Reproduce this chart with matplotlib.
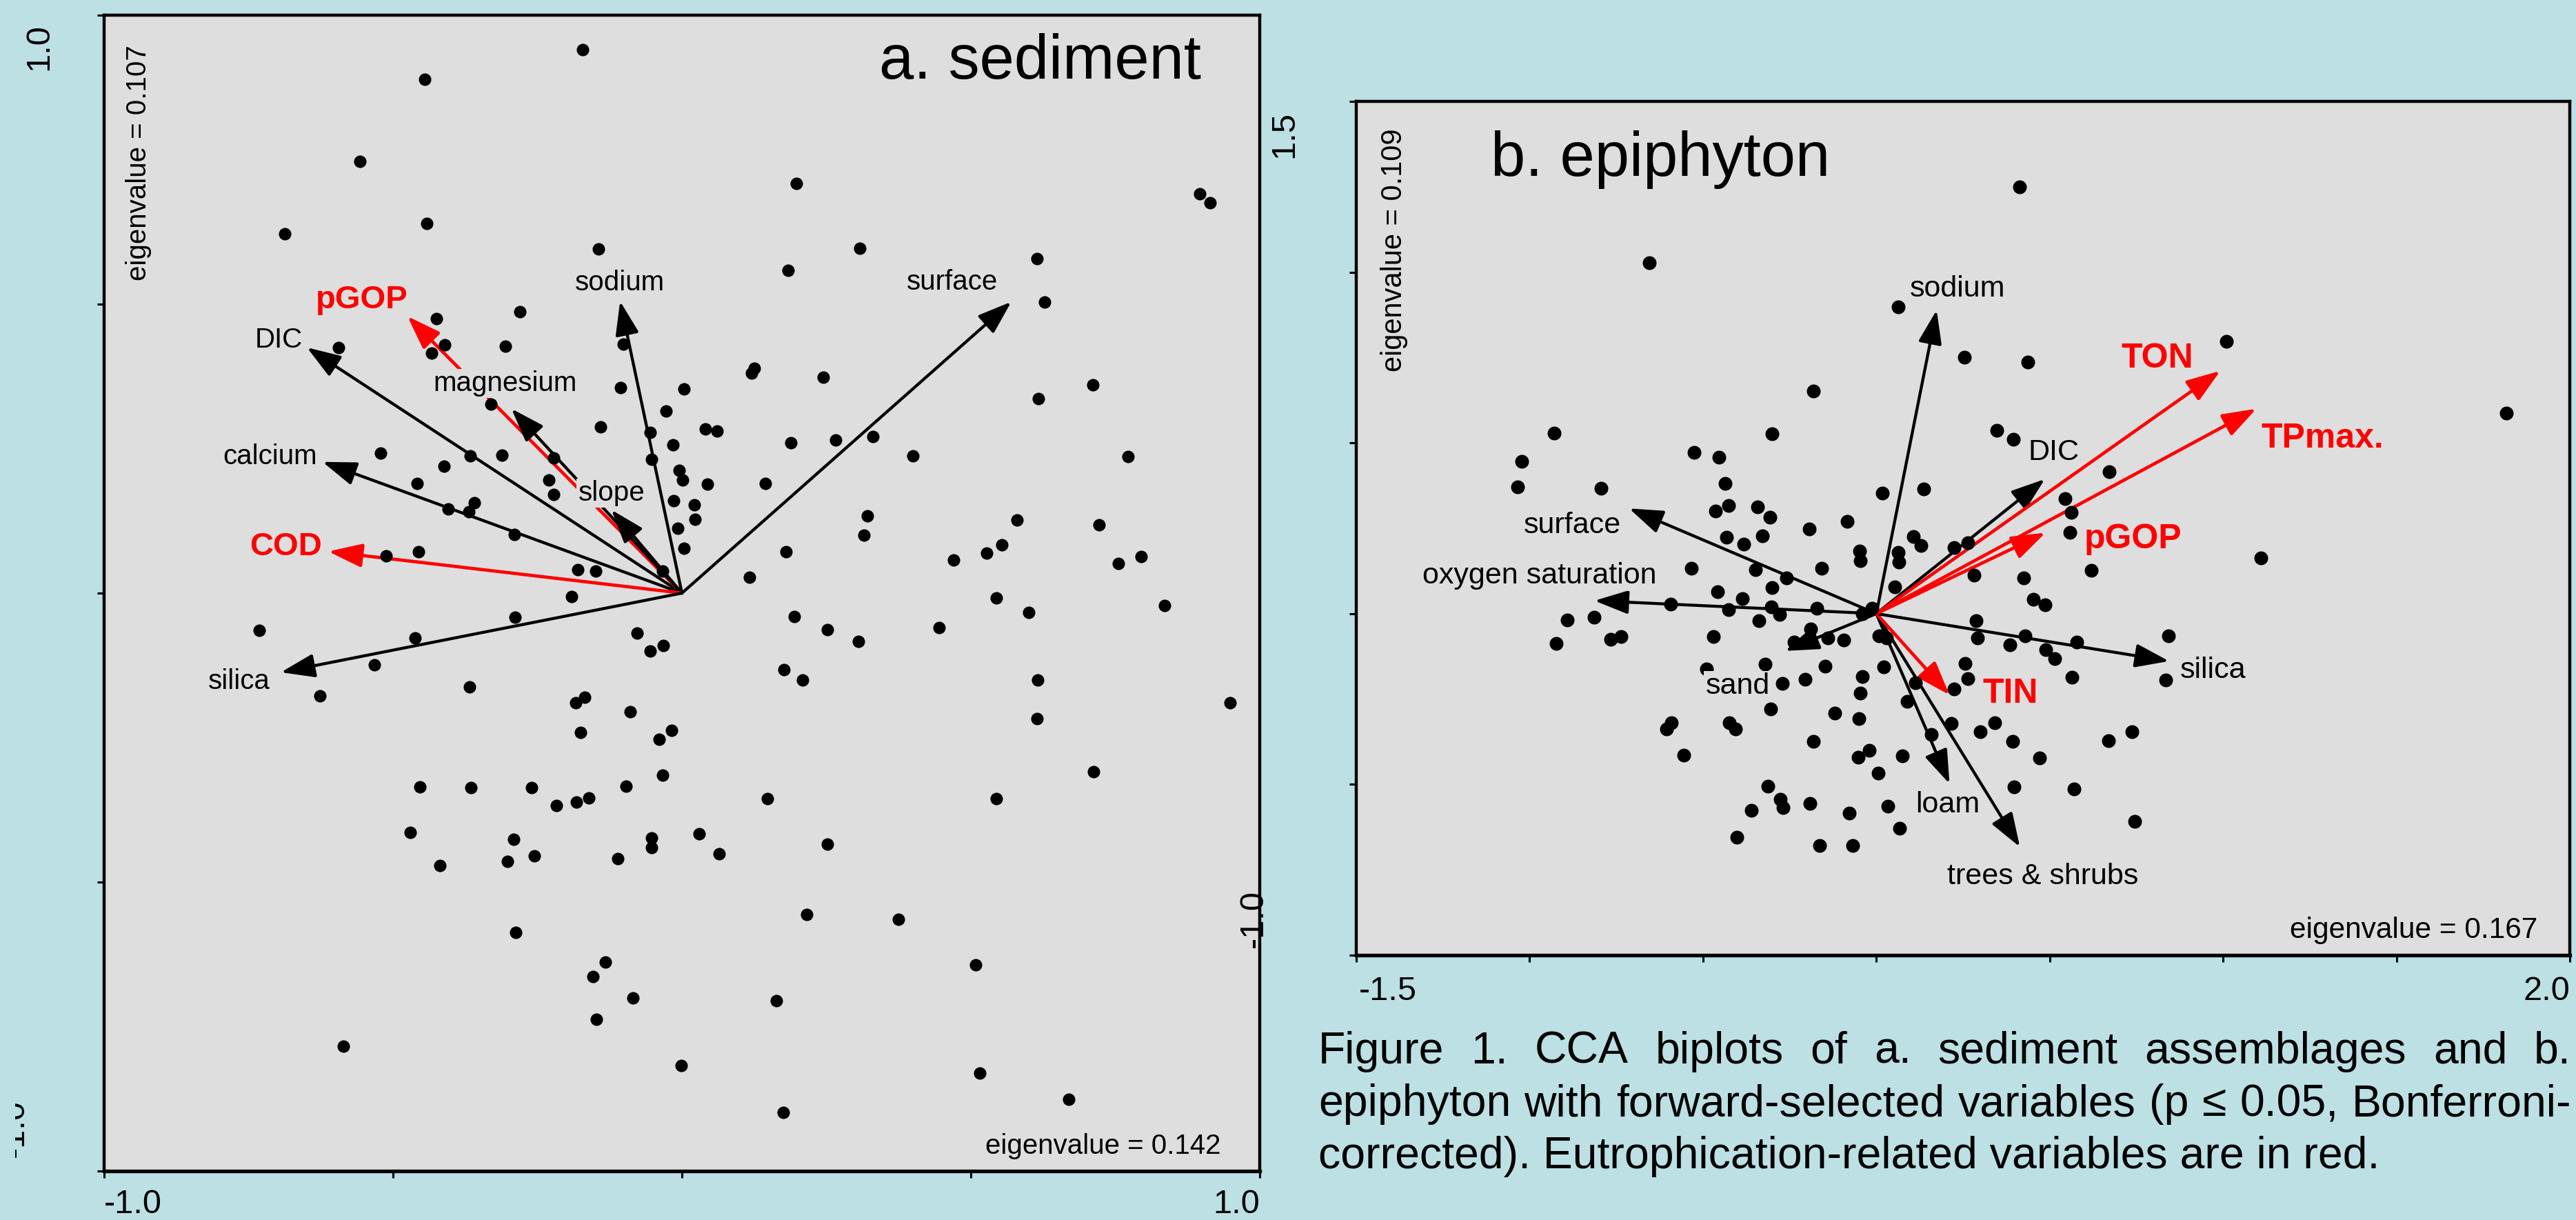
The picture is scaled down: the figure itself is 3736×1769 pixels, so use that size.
import numpy as np
import matplotlib
matplotlib.use("Agg")
import matplotlib.pyplot as plt
from matplotlib.transforms import Bbox

plt.rcParams['font.family'] = ['Liberation Sans', 'DejaVu Sans']

BG = '#BCE0E4'
PANEL = '#DEDEDE'
RED = '#FF0000'

# ---------------- a. sediment ----------------
sed_x = [
    -0.172, -0.445, -0.557, -0.441, -0.687, -0.144, -0.425, -0.281, -0.594, -0.411,
    -0.433, -0.306, -0.102, -0.106, 0.003, -0.330, -0.028, -0.141, -0.055, -0.015,
    -0.222, -0.312, -0.366, -0.522, -0.412, -0.458, -0.230, -0.222, -0.052, -0.005,
    0.001, -0.014, -0.359, -0.404, -0.369, -0.290, -0.007, 0.003, -0.512, -0.456,
    -0.180, -0.149, -0.033,
    0.198, 0.308, 0.184, 0.615, 0.628, 0.896, 0.914, 0.120, 0.125, 0.245,
    0.711, 0.617, 0.040, 0.061, 0.188, 0.266, 0.330, 0.400, 0.772, 0.044,
    0.144, 0.021, 0.023, 0.321, 0.315, 0.580, 0.722, 0.554, 0.527, 0.470,
    0.755, 0.795, 0.180, 0.117,
    -0.191, -0.289, -0.732, -0.462, -0.532, -0.626, -0.367, -0.077, -0.055, -0.032,
    -0.184, -0.168, -0.090, -0.175, -0.018, -0.039, -0.033, -0.453, -0.365, -0.260,
    -0.217, -0.182, -0.161, -0.097, -0.470, -0.291, -0.255, -0.302, -0.419, -0.111,
    -0.053, -0.053, -0.287, -0.132, -0.154, -0.085, -0.148, -0.586, -0.001,
    0.544, 0.600, 0.835, 0.195, 0.252, 0.306, 0.445, 0.177, 0.209, 0.616,
    0.949, 0.614, 0.713, 0.148, 0.544, 0.030, 0.065, 0.252, 0.216, 0.375,
    0.508, 0.164, 0.515, 0.670, 0.175]
sed_y = [
    0.940, 0.889, 0.747, 0.640, 0.622, 0.596, 0.475, 0.487, 0.425, 0.429,
    0.415, 0.427, 0.431, 0.356, 0.353, 0.327, 0.315, 0.287, 0.278, 0.256,
    0.234, 0.239, 0.237, 0.242, 0.220, 0.190, 0.196, 0.171, 0.231, 0.212,
    0.196, 0.160, 0.156, 0.145, 0.141, 0.101, 0.112, 0.077, 0.064, 0.072,
    0.041, 0.038, 0.038,
    0.709, 0.597, 0.559, 0.579, 0.504, 0.691, 0.675, 0.381, 0.389, 0.373,
    0.360, 0.336, 0.284, 0.280, 0.260, 0.265, 0.271, 0.237, 0.236, 0.188,
    0.190, 0.153, 0.128, 0.134, 0.100, 0.126, 0.118, 0.084, 0.069, 0.057,
    0.051, 0.063, 0.072, 0.028,
    -0.006, -0.042, -0.064, -0.077, -0.124, -0.178, -0.162, -0.069, -0.100, -0.091,
    -0.190, -0.180, -0.205, -0.241, -0.237, -0.253, -0.315, -0.335, -0.337, -0.337,
    -0.368, -0.362, -0.354, -0.334, -0.414, -0.426, -0.455, -0.464, -0.471, -0.459,
    -0.424, -0.440, -0.587, -0.638, -0.664, -0.700, -0.737, -0.784, -0.817,
    -0.008, -0.034, -0.021, -0.041, -0.063, -0.083, -0.060, -0.133, -0.150, -0.150,
    -0.190, -0.217, -0.309, -0.356, -0.356, -0.417, -0.451, -0.434, -0.556, -0.565,
    -0.643, -0.705, -0.830, -0.876, -0.898]

sed_vars = ['sodium', 'DIC', 'pGOP', 'magnesium', 'slope', 'calcium', 'COD',
            'silica', 'surface']
sed_vx = [-0.107, -0.649, -0.475, -0.295, -0.122, -0.622, -0.612, -0.694, 0.570]
sed_vy = [0.505, 0.425, 0.479, 0.319, 0.144, 0.227, 0.072, -0.137, 0.504]
sed_eutro = [False, False, True, False, False, False, True, False, False]
# where each variable name sits
sed_lx = [-0.107, -0.698, -0.554, -0.306, -0.122, -0.713, -0.686, -0.766, 0.468]
sed_ly = [0.537, 0.438, 0.507, 0.363, 0.173, 0.236, 0.080, -0.153, 0.538]

# ---------------- b. epiphyton ----------------
epi_x = [
    -0.655, 0.064, -0.182, -0.929, -0.301, -1.023, -1.034, -0.795, -0.525, -0.453,
    -0.437, 0.018, 0.136, -0.464, -0.426, -0.342, -0.306, -0.085,
    0.414, 1.009, 0.254, 0.437, 1.818, 0.347, 0.395, 0.671, 0.544, 0.562,
    -0.194, -0.433, -0.383, -0.329, 0.106, 0.128, 0.224, -0.049, -0.047, 0.063,
    0.066, -0.533, -0.349, -0.158, -0.259, -0.301, -0.458, -0.386, 0.053, -0.594,
    -0.427, -0.303, -0.278, -0.171, -0.338, -0.013, -0.041, -0.892, -0.813, -0.923,
    -0.766, -0.736, -0.469, -0.190, -0.238, -0.139, -0.094, 0.008, 0.030, -0.489,
    -0.320, -0.148, -0.272, -0.206, -0.041, 0.021, -0.047, 0.113, 0.225, 0.088,
    -0.305, -0.119, -0.050, 0.217, -0.591, -0.606, -0.425, -0.406, 0.158, -0.556,
    -0.182, -0.020, -0.052, 0.075, 0.005, -0.313, -0.276, -0.269, -0.360, -0.191,
    -0.078, 0.034, 0.068, -0.403, -0.164, -0.068,
    0.559, 1.109, 0.620, 0.281, 0.425, 0.453, 0.487, 0.287, 0.292, 0.386,
    0.428, 0.489, 0.515, 0.578, 0.843, 0.256, 0.263, 0.565, 0.835, 0.342,
    0.300, 0.394, 0.738, 0.670, 0.471, 0.398, 0.571, 0.745, 0.263]
epi_y = [
    1.027, 0.898, 0.652, 0.528, 0.527, 0.446, 0.372, 0.368, 0.473, 0.457,
    0.382, 0.352, 0.366, 0.301, 0.316, 0.312, 0.283, 0.270,
    1.250, 0.798, 0.751, 0.737, 0.587, 0.536, 0.510, 0.415, 0.336, 0.297,
    0.247, 0.223, 0.203, 0.227, 0.225, 0.199, 0.194, 0.184, 0.155, 0.180,
    0.151, 0.132, 0.128, 0.133, 0.104, 0.077, 0.064, 0.044, 0.079, 0.028,
    0.012, 0.019, -0.002, 0.015, -0.021, 0.015, 0.000, -0.019, -0.011, -0.088,
    -0.076, -0.068, -0.067, -0.045, -0.084, -0.072, -0.078, -0.066, -0.072, -0.161,
    -0.148, -0.154, -0.204, -0.193, -0.185, -0.156, -0.232, -0.202, -0.220, -0.257,
    -0.279, -0.292, -0.308, -0.321, -0.319, -0.338, -0.320, -0.338, -0.354, -0.414,
    -0.373, -0.400, -0.420, -0.416, -0.466, -0.505, -0.543, -0.568, -0.575, -0.556,
    -0.583, -0.564, -0.628, -0.655, -0.678, -0.678,
    0.237, 0.163, 0.127, 0.113, 0.105, 0.042, 0.025, -0.020, -0.072, -0.092,
    -0.066, -0.106, -0.131, -0.084, -0.066, -0.145, -0.191, -0.187, -0.195, -0.320,
    -0.346, -0.375, -0.346, -0.371, -0.423, -0.507, -0.513, -0.609, 0.208]

epi_vars = ['sodium', 'surface', 'oxygen saturation', 'sand', 'loam',
            'trees & shrubs', 'TIN', 'silica', 'DIC', 'TON', 'TPmax.', 'pGOP']
epi_vx = [0.174, -0.713, -0.813, -0.263, 0.211, 0.414, 0.211, 0.844, 0.486,
          0.992, 1.096, 0.488]
epi_vy = [0.889, 0.308, 0.038, -0.109, -0.498, -0.683, -0.238, -0.139, 0.394,
          0.711, 0.600, 0.237]
epi_eutro = [False, False, False, False, False, False, True, False, False,
             True, True, True]
epi_lx = [0.234, -0.876, -0.972, -0.400, 0.206, 0.479, 0.387, 0.971, 0.511,
          0.810, 1.287, 0.741]
epi_ly = [0.951, 0.258, 0.110, -0.212, -0.559, -0.770, -0.234, -0.165, 0.472,
          0.747, 0.512, 0.217]

caption = ["Figure 1. CCA biplots of a. sediment assemblages and b.",
           "epiphyton with forward-selected variables (p \u2264 0.05, Bonferroni-",
           "corrected). Eutrophication-related variables are in red."]

W, H = 3736, 1769
fig = plt.figure(figsize=(W / 100, H / 100), dpi=100, facecolor=BG)


def px_axes(x0, y0, x1, y1):
    # axes from pixel box (top-left origin)
    return fig.add_axes([x0 / W, 1 - y1 / H, (x1 - x0) / W, (y1 - y0) / H])


def style_axes(ax, xlim, ylim, step):
    ax.set_facecolor(PANEL)
    ax.set_xlim(xlim)
    ax.set_ylim(ylim)
    ax.set_xticks(np.arange(xlim[0], xlim[1] + 0.01, step))
    ax.set_yticks(np.arange(ylim[0], ylim[1] + 0.01, step))
    ax.tick_params(direction='out', length=7, width=2.2,
                   labelbottom=False, labelleft=False)
    for s in ax.spines.values():
        s.set_linewidth(3.2)
    ax.spines['bottom'].set_linewidth(3.8)


def biplot(ax, sx, sy, names, vx, vy, red, lx, ly, fs, fsb, dot):
    for name, x, y, r, tx, ty in zip(names, vx, vy, red, lx, ly):
        c = RED if r else 'black'
        ax.annotate('', xy=(x, y), xytext=(0, 0), zorder=2,
                    arrowprops=dict(arrowstyle='-|>,head_length=30,head_width=10.5',
                                    mutation_scale=1, lw=3.4 if r else 3.1,
                                    color=c, shrinkA=0, shrinkB=0))
        ax.text(tx, ty, name, color=c, fontsize=fsb if r else fs,
                fontweight='bold' if r else 'normal', ha='center', va='center',
                zorder=5, bbox=dict(boxstyle='square,pad=0.05', fc=PANEL, ec='none'))
    ax.scatter(sx, sy, s=dot, c='black', linewidths=0, zorder=3)


def atext(ax, x, y, s, fs, **kw):
    return ax.text(x, y, s, transform=ax.transAxes, fontsize=fs, clip_on=False, **kw)


# left panel
ax1 = px_axes(151, 22, 1827, 1698)
style_axes(ax1, (-1, 1), (-1, 1), 0.5)
biplot(ax1, sed_x, sed_y, sed_vars, sed_vx, sed_vy, sed_eutro, sed_lx, sed_ly,
       29, 34, 170)
atext(ax1, 0.949, 0.945, 'a. sediment', 65, ha='right', va='baseline')
atext(ax1, 0.030, 0.974, 'eigenvalue = 0.107', 29, rotation=90, ha='center', va='top')
atext(ax1, 0.966, 0.015, 'eigenvalue = 0.142', 29, ha='right', va='baseline')
atext(ax1, 0.0, -0.029, '-1.0', 35, ha='left', va='center')
atext(ax1, 1.0, -0.029, '1.0', 35, ha='right', va='center')
atext(ax1, -0.0561, 0.9928, '1.0', 35, rotation=90, ha='center', va='top')
# bottom label is cut off at the left border in the original
low = atext(ax1, -0.0638, 0.037, '-1.0', 35, rotation=90, ha='right', va='center')
low.set_clip_on(True)
low.set_clip_box(Bbox.from_extents(22, 0, 300, H))

# right panel
ax2 = px_axes(1967, 147, 3727, 1385)
style_axes(ax2, (-1.5, 2.0), (-1.0, 1.5), 0.5)
biplot(ax2, epi_x, epi_y, epi_vars, epi_vx, epi_vy, epi_eutro, epi_lx, epi_ly,
       31, 36, 207)
atext(ax2, 0.111, 0.913, 'b. epiphyton', 65, ha='left', va='baseline')
atext(ax2, 0.0313, 0.9685, 'eigenvalue = 0.109', 30, rotation=90, ha='center', va='top')
atext(ax2, 0.9733, 0.0202, 'eigenvalue = 0.167', 30.5, ha='right', va='baseline')
atext(ax2, 0.002, -0.0428, '-1.5', 35, ha='left', va='center')
atext(ax2, 1.0, -0.0428, '2.0', 35, ha='right', va='center')
atext(ax2, -0.0591, 0.9887, '1.5', 35, rotation=90, ha='center', va='top')
atext(ax2, -0.0847, 0.0089, '-1.0', 35, rotation=90, ha='center', va='bottom')

# caption, first two lines justified
renderer = fig.canvas.get_renderer()
cap_left, cap_right = 1912, 3729
cap_base = [1542, 1618, 1694]
cap_fs = 46.4
for i, line in enumerate(caption):
    yf = 1 - cap_base[i] / H
    if i == len(caption) - 1:
        fig.text(cap_left / W, yf, line, fontsize=cap_fs, va='baseline')
        continue
    words = line.split(' ')
    texts = [fig.text(0, yf, w, fontsize=cap_fs, va='baseline') for w in words]
    widths = [t.get_window_extent(renderer).width for t in texts]
    gap = (cap_right - cap_left - sum(widths)) / (len(words) - 1)
    x = cap_left
    for t, w in zip(texts, widths):
        t.set_x(x / W)
        x += w + gap

fig.savefig('out.png', dpi=100, facecolor=BG)
